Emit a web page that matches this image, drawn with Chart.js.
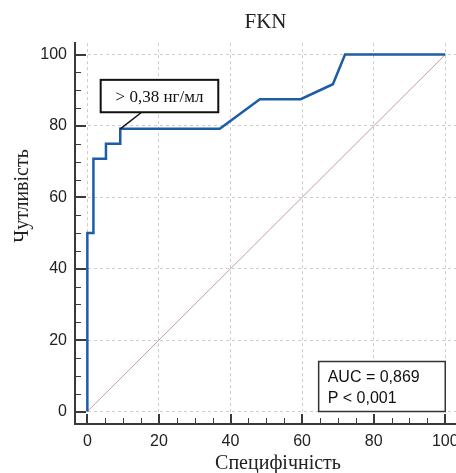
<!DOCTYPE html>
<html><head><meta charset="utf-8">
<script src="https://cdn.jsdelivr.net/npm/chart.js@4/dist/chart.umd.min.js"></script>
<style>html,body{margin:0;padding:0;background:#fff}canvas{display:block}</style>
</head><body>
<canvas id="c" width="456" height="473"></canvas>
<script>
const chartTitle = 'FKN';
const xAxisTitle = 'Специфічність';
const yAxisTitle = 'Чутливість';
// ROC curve points
const rocX = [0, 0, 1.7, 1.7, 5.2, 5.2, 9.2, 9.2, 37.0, 48.2, 59.6, 68.6, 72.0, 100];
const rocY = [0, 50.0, 50.0, 70.8, 70.8, 75.0, 75.0, 79.2, 79.2, 87.5, 87.5, 91.7, 100, 100];
// reference diagonal
const diagX = [0, 100];
const diagY = [0, 100];
// axis ticks
const tickValues = [0, 5, 10, 15, 20, 25, 30, 35, 40, 45, 50, 55, 60, 65, 70, 75, 80, 85, 90, 95, 100];
const tickLabels = ['0', '20', '40', '60', '80', '100'];
// criterion annotation
const criterionX = 9.2;
const criterionY = 79.2;
const criterionLabel = '> 0,38 нг/мл';
const statsLines = ['AUC = 0,869', 'P < 0,001'];

const isMajor = v => tickLabels.includes(String(v));

const overlay = {
  id: 'overlay',
  afterDraw(chart) {
    const {ctx, chartArea, scales} = chart;
    const xs = scales.x, ys = scales.y;
    ctx.save();
    // inward tick marks
    ctx.strokeStyle = '#3a3a3a';
    tickValues.forEach(v => {
      const m = isMajor(v);
      ctx.lineWidth = m ? 2 : 1;
      const xp = Math.round(xs.getPixelForValue(v)) + (m ? 0 : 0.5);
      ctx.beginPath();
      ctx.moveTo(xp, chartArea.bottom);
      ctx.lineTo(xp, chartArea.bottom - (m ? 10 : 6));
      ctx.stroke();
      const yp = Math.round(ys.getPixelForValue(v)) + (m ? 0 : 0.5);
      ctx.beginPath();
      ctx.moveTo(chartArea.left, yp);
      ctx.lineTo(chartArea.left + (m ? 11 : 6), yp);
      ctx.stroke();
    });
    // criterion label box
    const px = xs.getPixelForValue(criterionX), py = ys.getPixelForValue(criterionY);
    const bx = px - 19.6, by = py - 49, bw = 117.6, bh = 32.4;
    ctx.strokeStyle = '#111';
    ctx.lineWidth = 1.5;
    ctx.beginPath();
    ctx.moveTo(px, py);
    ctx.lineTo(px + 21.4, py - 16.6);
    ctx.stroke();
    ctx.fillStyle = '#fff';
    ctx.fillRect(bx, by, bw, bh);
    ctx.lineWidth = 2;
    ctx.strokeRect(bx, by, bw, bh);
    ctx.fillStyle = '#111';
    ctx.font = '17px "Liberation Serif"';
    ctx.textAlign = 'center';
    ctx.textBaseline = 'middle';
    ctx.fillText(criterionLabel, bx + bw / 2, by + bh / 2 + 1);
    // stats box
    const rx = xs.getPixelForValue(100), ry = ys.getPixelForValue(0);
    const sw = 126.6, sh = 50, sx = rx - sw, sy = ry - sh;
    ctx.fillStyle = '#fff';
    ctx.fillRect(sx, sy, sw, sh);
    ctx.strokeStyle = '#333';
    ctx.lineWidth = 1.5;
    ctx.strokeRect(sx, sy, sw, sh);
    ctx.fillStyle = '#111';
    ctx.font = '16px "Liberation Sans"';
    ctx.textAlign = 'left';
    ctx.textBaseline = 'alphabetic';
    ctx.fillText(statsLines[0], sx + 9, sy + 20.6);
    ctx.fillText(statsLines[1], sx + 9, sy + 41.6);
    // axis titles
    ctx.font = '20px "Liberation Serif"';
    ctx.fillStyle = '#222';
    ctx.textAlign = 'center';
    ctx.textBaseline = 'middle';
    ctx.fillText(xAxisTitle, 278, 464);
    ctx.save();
    ctx.translate(23, 196);
    ctx.rotate(-Math.PI / 2);
    ctx.fillText(yAxisTitle, 0, 0);
    ctx.restore();
    ctx.restore();
  }
};

const gridColor = ctx => (ctx.tick && isMajor(ctx.tick.value)) ? '#cdcdcd' : 'rgba(0,0,0,0)';
const tickFont = {family: 'Liberation Sans', size: 16};

new Chart(document.getElementById('c'), {
  type: 'line',
  data: {
    datasets: [
      {
        data: rocX.map((v, i) => ({x: v, y: rocY[i]})),
        borderColor: '#1d5ca6',
        borderWidth: 2.5,
        pointRadius: 0,
        tension: 0,
        fill: false
      },
      {
        data: diagX.map((v, i) => ({x: v, y: diagY[i]})),
        borderColor: '#c99a9a',
        borderWidth: 1,
        pointRadius: 0,
        fill: false
      }
    ]
  },
  options: {
    responsive: false,
    animation: false,
    devicePixelRatio: 1,
    layout: {padding: 0},
    plugins: {
      legend: {display: false},
      tooltip: {enabled: false},
      title: {
        display: true,
        text: chartTitle,
        fullSize: false,
        align: 'center',
        color: '#222',
        font: {family: 'Liberation Serif', size: 21, weight: 'normal'},
        padding: {top: 10, bottom: 8}
      }
    },
    scales: {
      x: {
        type: 'linear',
        min: -3.45,
        max: 103.0,
        afterBuildTicks: s => { s.ticks = tickValues.map(v => ({value: v})); },
        afterFit: s => { s.height = 49; s.paddingLeft = 0; s.paddingRight = 0; },
        ticks: {
          autoSkip: false,
          maxRotation: 0,
          padding: 8,
          color: '#222',
          font: tickFont,
          callback: v => isMajor(v) ? String(v) : ''
        },
        grid: {color: gridColor, lineWidth: 1, drawTicks: false},
        border: {display: true, color: '#3a3a3a', width: 2, dash: [3, 3]}
      },
      y: {
        type: 'linear',
        min: -3.5,
        max: 103.2,
        afterBuildTicks: s => { s.ticks = tickValues.map(v => ({value: v})); },
        afterFit: s => { s.width = 75; s.paddingTop = 0; s.paddingBottom = 0; },
        ticks: {
          autoSkip: false,
          padding: 8,
          color: '#222',
          font: tickFont,
          callback: v => isMajor(v) ? String(v) : ''
        },
        grid: {color: gridColor, lineWidth: 1, drawTicks: false},
        border: {display: true, color: '#3a3a3a', width: 2, dash: [3, 3]}
      }
    }
  },
  plugins: [overlay]
});
</script>
</body></html>
